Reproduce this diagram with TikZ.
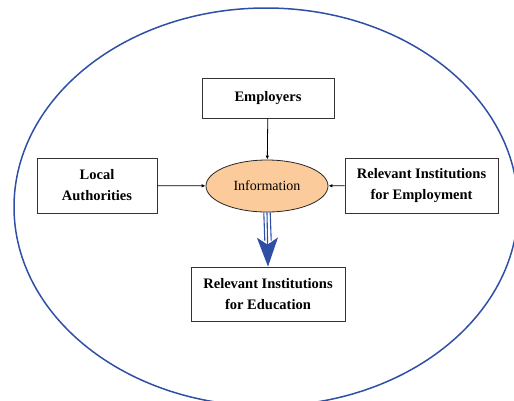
\documentclass[tikz,border=0pt]{standalone}
\usepackage{fontspec}
\setmainfont{Liberation Serif}
\usepackage{tikz}
\usetikzlibrary{arrows.meta,calc,shapes.geometric}
\definecolor{ringblue}{HTML}{2F4FA6}
\definecolor{infofill}{HTML}{FBCB9C}
\tikzset{
    >={Latex[length=4pt,width=3.5pt]},
    every picture/.style={line width=0.8pt},
    party/.style={rectangle,draw=black!80,minimum height=40pt,align=center,
        font=\fontsize{14.5}{21}\selectfont\bfseries},
    hub/.style={ellipse,draw=black!85,fill=infofill,minimum width=122pt,
        minimum height=52pt,inner sep=0pt,font=\fontsize{14}{16}\selectfont}
}

\begin{document}
\begin{tikzpicture}[x=1pt,y=-1pt]
        \useasboundingbox (0,0) rectangle (514,400);
        \clip (0,0) rectangle (514,400);
        % Outer ring
        \draw[ringblue,line width=1.5pt] (266,207) ellipse [x radius=252,y radius=199];

        % Information hub and the parties round it
        \node[hub] (info) at (267,186) {Information};
        \node[party,minimum width=132pt] (emp) at (268,98) {Employers};
        \node[party,minimum width=120pt,minimum height=55pt] (loc) at (97,185.5) {Local\\Authorities};
        \node[party,minimum width=153pt,minimum height=55pt] (job) at (421.5,185.5) {Relevant Institutions\\for Employment};
        \node[party,minimum width=154pt,minimum height=54pt] (edu) at (268,294) {Relevant Institutions\\for Education};

        % Inputs
        \draw[->] (emp) -- (info);
        \draw[->] (loc) -- (info);
        \draw[->] (job) -- (info);

        % Output to education
        \draw[ringblue,line width=1.1pt] ($(info.south)+(-3.2,0)$) -- ($(edu.north)+(-3.2,-26)$);
        \draw[ringblue,line width=1.1pt] ($(info.south)+(3.2,0)$) -- ($(edu.north)+(3.2,-26)$);
        \draw[ringblue,line width=1.1pt,-{Stealth[length=29pt,width=21pt,inset=7pt]}] (info.south) -- (edu.north);
    \end{tikzpicture}
\end{document}
